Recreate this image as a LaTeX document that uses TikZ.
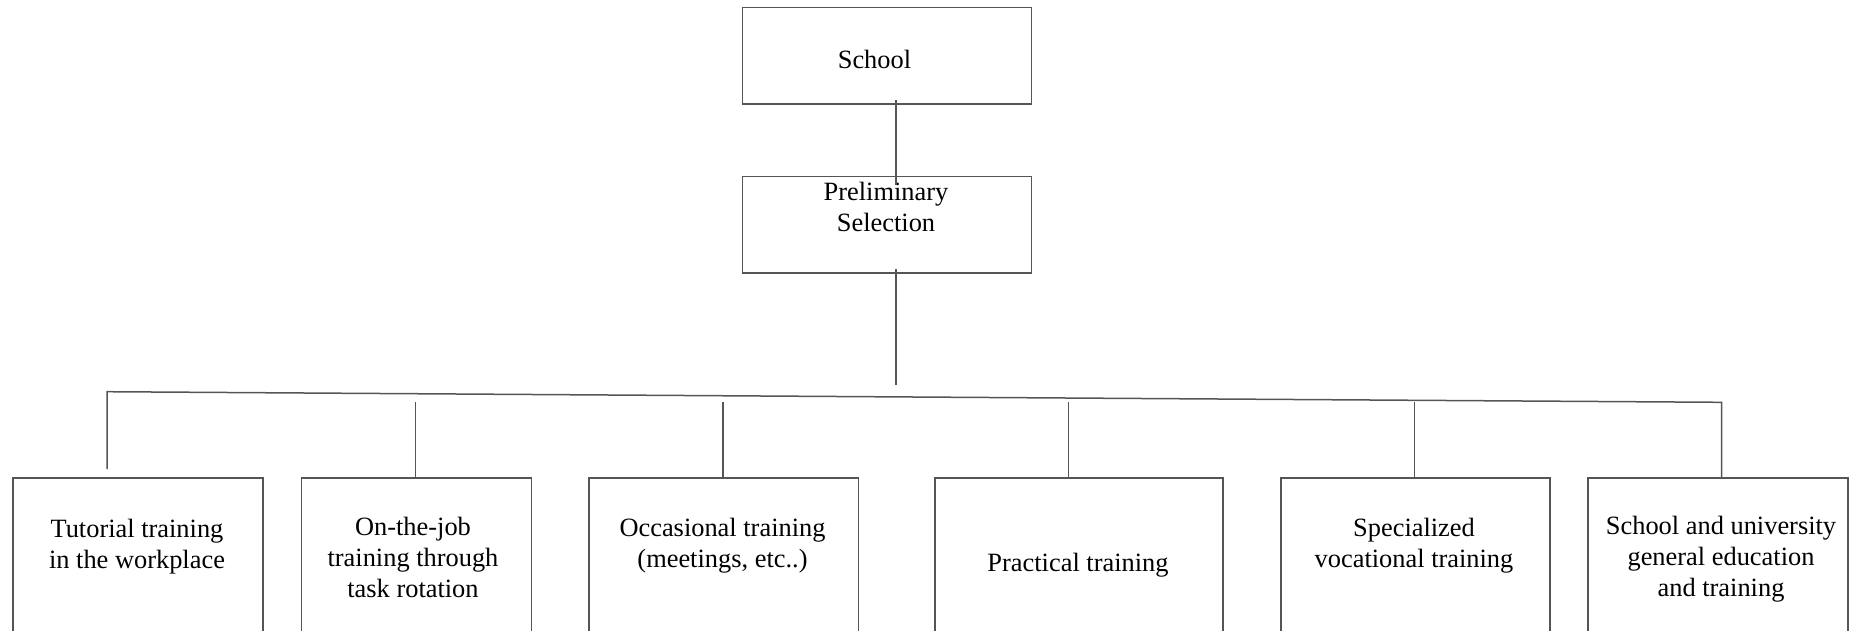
\documentclass[tikz,border=0pt]{standalone}
\usepackage{fontspec}
\setmainfont{Liberation Serif}
\definecolor{edge}{RGB}{85,85,85}
\begin{document}
\begin{tikzpicture}[x=1pt,y=-1pt,
  box/.style={draw=edge, line width=1.5pt, inner sep=0pt, anchor=north west},
  conn/.style={draw=edge, line width=1.5pt},
  txt/.style={anchor=base, inner sep=0pt, font=\fontsize{26.4}{31}\selectfont}]
\useasboundingbox (0,0) rectangle (1849,630);
% boxes
\node[box, minimum width=288.8pt, minimum height=96.5pt] (school) at (741.8,6.8) {};
\node[box, minimum width=288.8pt, minimum height=96.3pt] (prelim) at (741.8,175.8) {};
\node[box, minimum width=249.7pt, minimum height=170pt] (b1) at (12.3,477.3) {};
\node[box, minimum width=230pt, minimum height=170pt] (b2) at (300.7,477.3) {};
\node[box, minimum width=269.4pt, minimum height=170pt] (b3) at (588.3,477.3) {};
\node[box, minimum width=288.3pt, minimum height=170pt] (b4) at (934,477.3) {};
\node[box, minimum width=269pt, minimum height=170pt] (b5) at (1280,477.3) {};
\node[box, minimum width=259.7pt, minimum height=170pt] (b6) at (1587.3,477.3) {};
% texts
\node[txt] (tschool) at (874.5,68) {School};
\node[txt] (tprelim) at (886,200) {\begin{tabular}[t]{@{}c@{}}Preliminary\\Selection\end{tabular}};
\node[txt] (t1) at (137,537) {\begin{tabular}[t]{@{}c@{}}Tutorial training\\in the workplace\end{tabular}};
\node[txt] (t2) at (413,535) {\begin{tabular}[t]{@{}c@{}}On-the-job\\training through\\task rotation\end{tabular}};
\node[txt] (t3) at (722.5,536.5) {\begin{tabular}[t]{@{}c@{}}Occasional training\\(meetings, etc..)\end{tabular}};
\node[txt] (t4) at (1078,571.5) {Practical training};
\node[txt] (t5) at (1414,536.5) {\begin{tabular}[t]{@{}c@{}}Specialized\\vocational training\end{tabular}};
\node[txt] (t6) at (1721,534) {\begin{tabular}[t]{@{}c@{}}School and university\\general education\\and training\end{tabular}};
% connector points
\coordinate (s1) at (896,100);
\coordinate (s2) at (896,185);
\coordinate (p1) at (896,269);
\coordinate (p2) at (896,385);
\coordinate (busL) at (107,391.7);
\coordinate (busR) at (1721.7,402.3);
\coordinate (d1) at (107,469);
\coordinate (u2) at (415.7,402);
\coordinate (u3) at (723,402);
\coordinate (u4) at (1068.7,402);
\coordinate (u5) at (1414.7,402);
% connectors
\draw[conn] (s1) -- (s2);
\draw[conn] (p1) -- (p2);
\draw[conn] (d1) -- (busL) -- (busR) -- (busR |- b6.north);
\draw[conn] (u2) -- (u2 |- b2.north);
\draw[conn] (u3) -- (u3 |- b3.north);
\draw[conn] (u4) -- (u4 |- b4.north);
\draw[conn] (u5) -- (u5 |- b5.north);
\end{tikzpicture}
\end{document}
